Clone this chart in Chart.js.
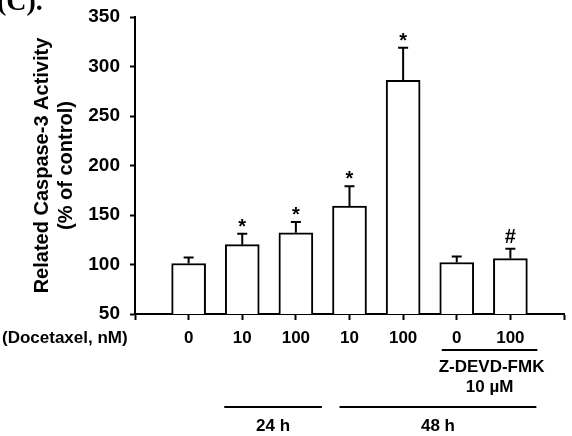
<!DOCTYPE html>
<html>
<head>
<meta charset="utf-8">
<script src="https://cdn.jsdelivr.net/npm/chart.js@4"></script>
<style>
  body { margin: 0; background: #fff; }
  #wrap { width: 572px; height: 436px; }
</style>
</head>
<body>
<div id="wrap"><canvas id="chart" width="572" height="436"></canvas></div>
<script>
// Data
const doseLabels = ["0", "10", "100", "10", "100", "0", "100"];
const meanValues = [101, 120, 132, 159, 286, 102, 106];
const errorValues = [6, 11, 11, 20, 33, 6, 10];
const markers = ["", "*", "*", "*", "*", "", "#"];

const FONT = "'Liberation Sans', Arial, sans-serif";

// pad with an empty slot on each side so bars sit on ticks 1..7
const xLabels = [""].concat(doseLabels, [""]);
const barData = [null].concat(meanValues, [null]);

// ✅ draws error bars, significance marks and the group annotations
const annotations = {
  id: "annotations",
  afterDatasetsDraw(chart) {
    const ctx = chart.ctx;
    const x = chart.scales.x;
    const y = chart.scales.y;
    const meta = chart.getDatasetMeta(0);
    ctx.save();
    ctx.strokeStyle = "#000";
    ctx.fillStyle = "#000";
    ctx.lineWidth = 2;

    meanValues.forEach((m, i) => {
      const bar = meta.data[i + 1];
      const top = y.getPixelForValue(m + errorValues[i]);
      ctx.beginPath();
      ctx.moveTo(bar.x, bar.y);
      ctx.lineTo(bar.x, top);
      ctx.moveTo(bar.x - 5, top);
      ctx.lineTo(bar.x + 5, top);
      ctx.stroke();
      if (markers[i]) {
        ctx.font = "bold 20px " + FONT;
        ctx.textAlign = "center";
        ctx.textBaseline = "alphabetic";
        ctx.fillText(markers[i], bar.x, top - (markers[i] === "#" ? 6 : 1));
      }
    });

    // row title for the x labels
    ctx.font = "bold 17px " + FONT;
    ctx.textAlign = "left";
    ctx.textBaseline = "middle";
    ctx.fillText("(Docetaxel, nM)", 2, 338);

    // group lines
    const px = i => x.getPixelForValue(i);
    const hline = (x1, x2, yy) => {
      ctx.beginPath();
      ctx.moveTo(x1, yy);
      ctx.lineTo(x2, yy);
      ctx.stroke();
    };
    ctx.textAlign = "center";
    hline(px(6) - 15, px(7) + 27, 350);
    ctx.fillText("Z-DEVD-FMK", (px(6) + px(7)) / 2 + 8, 367);
    ctx.fillText("10 \u00b5M", (px(6) + px(7)) / 2 + 6, 387);

    hline(px(2) - 18, px(3) + 26, 407);
    ctx.fillText("24 h", (px(2) - 18 + px(3) + 26) / 2, 426);
    hline(px(4) - 10, px(7) + 26, 407);
    ctx.fillText("48 h", (px(4) - 10 + px(7) + 26) / 2, 426);

    // panel letter, cut at the top edge
    ctx.font = "bold 28px 'Liberation Serif', 'Times New Roman', serif";
    ctx.textAlign = "left";
    ctx.textBaseline = "alphabetic";
    ctx.fillText("(C).", -3, 10);
    ctx.restore();
  }
};

new Chart(document.getElementById("chart"), {
  type: "bar",
  data: {
    labels: xLabels,
    datasets: [{
      data: barData,
      backgroundColor: "#fff",
      borderColor: "#000",
      borderWidth: 2,
      barThickness: 34
    }]
  },
  options: {
    responsive: false,
    animation: false,
    layout: { padding: { top: 17, right: 1, left: 0, bottom: 0 } },
    plugins: { legend: { display: false }, tooltip: { enabled: false } },
    scales: {
      x: {
        offset: false,
        afterFit: s => { s.height = 122; },
        grid: { offset: false, drawOnChartArea: false, drawTicks: true, tickLength: 6, tickWidth: 2, tickColor: "#000" },
        border: { display: true, color: "#000", width: 2 },
        ticks: { color: "#000", font: { family: FONT, size: 17, weight: "bold" }, padding: 8, maxRotation: 0, autoSkip: false }
      },
      y: {
        min: 50,
        max: 350,
        afterFit: s => { s.width = 135; s.paddingTop = 0; s.paddingBottom = 0; },
        grid: { drawOnChartArea: false, drawTicks: true, tickLength: 5, tickWidth: 2, tickColor: "#000" },
        border: { display: true, color: "#000", width: 2 },
        ticks: { stepSize: 50, color: "#000", font: { family: FONT, size: 19, weight: "bold" }, padding: 10 },
        title: {
          display: true,
          text: ["Related Caspase-3 Activity", "(% of control)"],
          color: "#000",
          font: { family: FONT, size: 20, weight: "bold", lineHeight: 1.2 },
          padding: { top: 30, bottom: 0 }
        }
      }
    }
  },
  plugins: [annotations]
});
</script>
</body>
</html>
